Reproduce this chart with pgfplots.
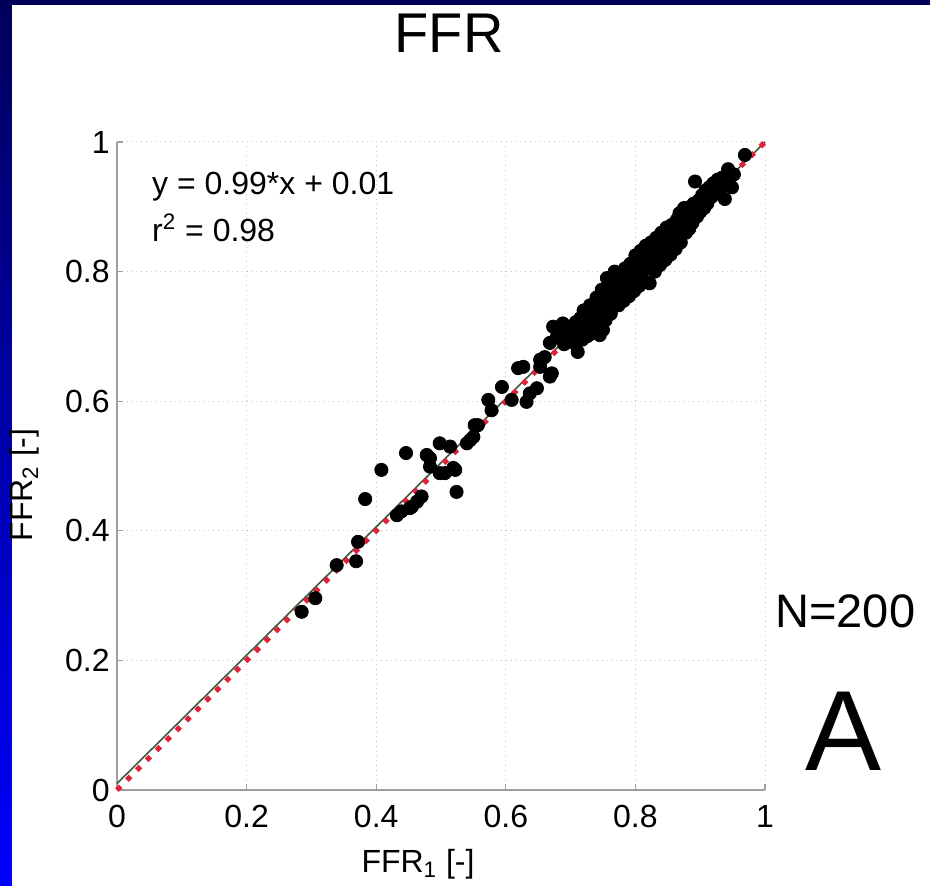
\documentclass[border=0pt]{standalone}
\usepackage{pgfplots}
\pgfplotsset{compat=1.18}
\usepackage{fontspec}
\setmainfont{Liberation Sans}
\definecolor{fitgreen}{HTML}{3D5A3D}
\definecolor{idred}{HTML}{E3203A}
\definecolor{navyband}{HTML}{00005A}

\begin{document}
\begin{tikzpicture}
% page = 930x885 px at 0.5pt per px, axis box lower left at (0,0)
\useasboundingbox (-58.5pt,-47.5pt) rectangle (406.5pt,395pt);
\fill[white] (-58.5pt,-47.5pt) rectangle (406.5pt,395pt);
\shade[top color=navyband, bottom color=blue] (-58.5pt,-47.5pt) rectangle (-52.5pt,395pt);
\fill[navyband] (-58.5pt,392.5pt) rectangle (406.5pt,395pt);

\begin{axis}[
  scale only axis, width=324pt, height=324pt,
  xmin=0, xmax=1, ymin=0, ymax=1,
  xtick={0,0.2,0.4,0.6,0.8,1}, ytick={0,0.2,0.4,0.6,0.8,1},
  axis x line*=bottom, axis y line*=left,
  axis line style={draw=gray!75, line width=0.75pt, -},
  tick align=inside, major tick length=3pt,
  tick style={draw=gray!75, line width=0.6pt},
  grid=major, grid style={dotted, gray!45, line width=0.5pt},
  /pgf/number format/assume math mode=true,
  ticklabel style={font=\fontsize{16}{18}\selectfont},
  xticklabel style={inner sep=0pt, anchor=north, yshift=-7.5pt},
  yticklabel style={inner sep=0pt, anchor=east, xshift=-3.5pt},
  clip=false,
]
\addplot[only marks, mark=*, mark size=3.3pt, mark options={fill=black, draw=black}] coordinates {
(0.285,0.275) (0.306,0.296) (0.339,0.347) (0.369,0.353) (0.372,0.383)
(0.383,0.449) (0.408,0.494) (0.432,0.424) (0.439,0.430) (0.446,0.520)
(0.452,0.435) (0.455,0.437) (0.463,0.445) (0.470,0.453) (0.478,0.517)
(0.483,0.499) (0.483,0.512) (0.498,0.535) (0.498,0.489) (0.506,0.489)
(0.514,0.530) (0.519,0.497) (0.522,0.494) (0.524,0.460) (0.540,0.535)
(0.545,0.540) (0.550,0.545) (0.552,0.563) (0.557,0.563) (0.573,0.602)
(0.578,0.586) (0.594,0.622) (0.609,0.602) (0.619,0.651) (0.627,0.653)
(0.632,0.599) (0.637,0.612) (0.648,0.620) (0.653,0.653) (0.653,0.664)
(0.660,0.668) (0.668,0.638) (0.671,0.643) (0.668,0.690) (0.673,0.715)
(0.679,0.700) (0.684,0.705) (0.688,0.720) (0.690,0.688) (0.696,0.702)
(0.700,0.712) (0.704,0.700) (0.705,0.690) (0.708,0.722) (0.711,0.676)
(0.712,0.705) (0.715,0.728) (0.718,0.695) (0.720,0.740) (0.722,0.712)
(0.725,0.700) (0.726,0.733) (0.728,0.702) (0.730,0.748) (0.732,0.722)
(0.733,0.710) (0.735,0.738) (0.737,0.712) (0.740,0.760) (0.742,0.728)
(0.744,0.745) (0.745,0.702) (0.746,0.718) (0.748,0.772) (0.750,0.738)
(0.750,0.710) (0.752,0.755) (0.754,0.725) (0.756,0.790) (0.758,0.748)
(0.760,0.768) (0.762,0.735) (0.764,0.782) (0.766,0.752) (0.768,0.800)
(0.770,0.760) (0.772,0.778) (0.774,0.748) (0.776,0.795) (0.778,0.765)
(0.780,0.785) (0.782,0.755) (0.784,0.805) (0.786,0.772) (0.788,0.792)
(0.790,0.762) (0.792,0.812) (0.794,0.780) (0.796,0.800) (0.798,0.770)
(0.800,0.825) (0.802,0.788) (0.804,0.810) (0.806,0.778) (0.808,0.832)
(0.810,0.798) (0.812,0.818) (0.814,0.785) (0.816,0.840) (0.818,0.805)
(0.820,0.825) (0.822,0.782) (0.824,0.845) (0.826,0.812) (0.828,0.835)
(0.830,0.800) (0.832,0.852) (0.834,0.822) (0.836,0.842) (0.838,0.810)
(0.840,0.860) (0.842,0.830) (0.844,0.848) (0.846,0.818) (0.848,0.868)
(0.850,0.838) (0.852,0.856) (0.854,0.826) (0.856,0.872) (0.858,0.845)
(0.860,0.862) (0.862,0.835) (0.864,0.880) (0.866,0.852) (0.868,0.890)
(0.870,0.845) (0.872,0.870) (0.875,0.898) (0.878,0.860) (0.880,0.882)
(0.883,0.866) (0.885,0.900) (0.888,0.875) (0.890,0.905) (0.892,0.939)
(0.895,0.885) (0.898,0.910) (0.900,0.892) (0.903,0.918) (0.906,0.898)
(0.908,0.925) (0.911,0.905) (0.914,0.930) (0.917,0.915) (0.920,0.936)
(0.924,0.920) (0.927,0.942) (0.930,0.925) (0.934,0.945) (0.938,0.912)
(0.940,0.935) (0.943,0.958) (0.946,0.946) (0.949,0.930) (0.952,0.950)
(0.969,0.980)
};
\addplot[fitgreen, line width=0.8pt] coordinates {(0,0.01) (1,1)};
\addplot[idred, line width=2.6pt, dash pattern=on 2.6pt off 4.4pt] coordinates {(0,0) (1,1)};
\end{axis}

% text, positions in pt from the axis origin
\node[anchor=base, font=\fontsize{28}{32}\selectfont] at (166pt,368.5pt) {FFR};
\node[anchor=base west, inner sep=0pt, font=\fontsize{16}{18}\selectfont] at (17.4pt,297.5pt) {y = 0.99*x + 0.01};
\node[anchor=base west, inner sep=0pt, font=\fontsize{16}{18}\selectfont] at (17.4pt,274pt) {r\textsuperscript{2} = 0.98};
\node[anchor=base, inner sep=0pt, font=\fontsize{16}{18}\selectfont] at (150.5pt,-41pt) {FFR\textsubscript{1} [-]};
\node[anchor=base, rotate=90, inner sep=0pt, font=\fontsize{16}{18}\selectfont] at (-42pt,152.5pt) {FFR\textsubscript{2} [-]};
\node[anchor=base west, inner sep=0pt, font=\fontsize{23.5}{26}\selectfont] at (329pt,81.5pt) {N=200};
\node[anchor=base west, inner sep=0pt, font=\fontsize{57}{60}\selectfont] at (344pt,10pt) {A};
\end{tikzpicture}
\end{document}
